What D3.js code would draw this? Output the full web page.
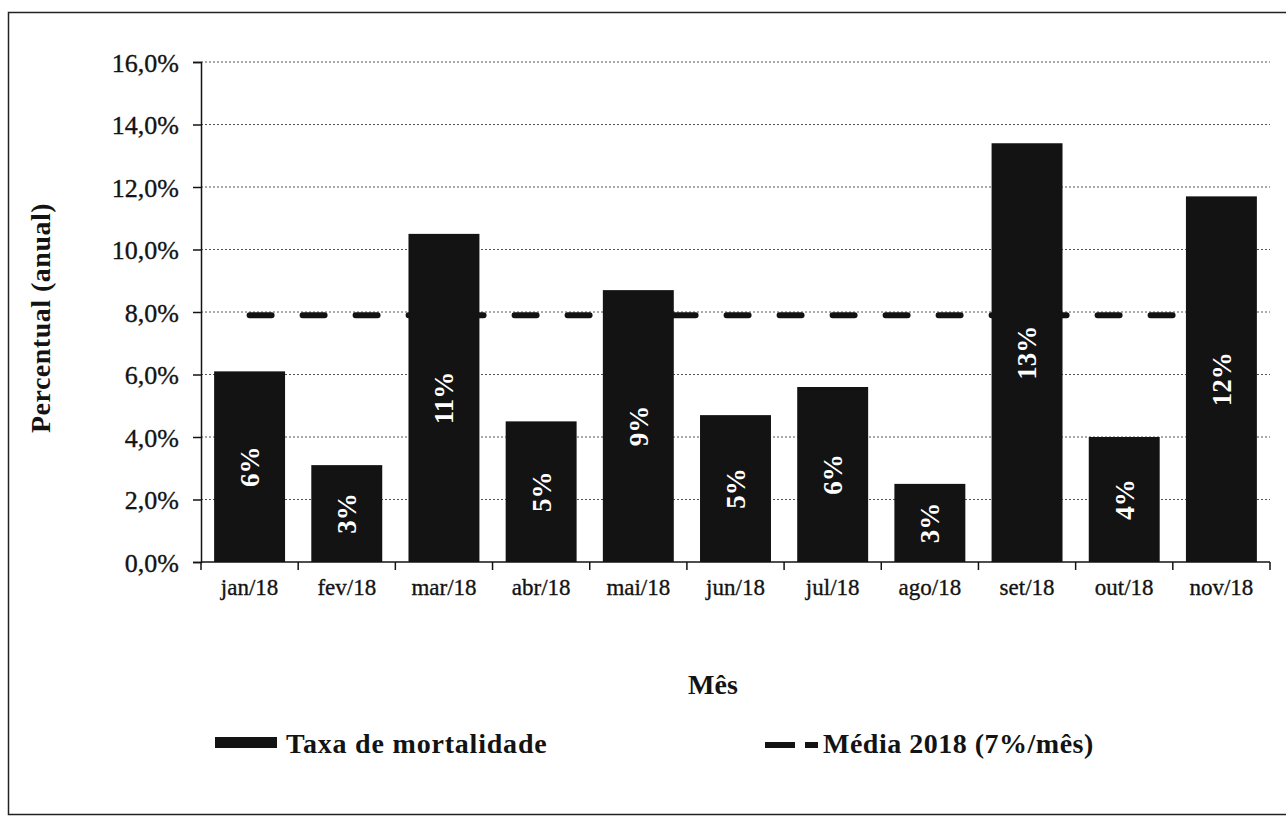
<!DOCTYPE html>
<html>
<head>
<meta charset="utf-8">
<script src="https://cdn.jsdelivr.net/npm/d3@7/dist/d3.min.js"></script>
<style>
  html, body { margin: 0; padding: 0; background: #fff; }
  svg { display: block; }
</style>
</head>
<body>
<svg id="chart" width="1286" height="821"></svg>
<script>
// ---- data ----
const months = ["jan/18","fev/18","mar/18","abr/18","mai/18","jun/18","jul/18","ago/18","set/18","out/18","nov/18"];
const mortalidade = [6.1, 3.1, 10.5, 4.5, 8.7, 4.7, 5.6, 2.5, 13.4, 4.0, 11.7];
const barLabels = ["6%","3%","11%","5%","9%","5%","6%","3%","13%","4%","12%"];
const mediaValue = 7.9;
const yTicks = [0, 2, 4, 6, 8, 10, 12, 14, 16];
const yTitle = "Percentual (anual)";
const xTitle = "Mês";
const legendLabels = ["Taxa de mortalidade", "Média 2018 (7%/mês)"];

// ---- layout ----
const svg = d3.select("#chart");
const W = 1286, H = 821;
const pLeft = 201, pRight = 1270, pTop = 62, pBottom = 562;
const ink = "#131313";
const FONT = "'Liberation Serif'";

function serif(sel, size, color, weight) {
  return sel.style("font-family", FONT)
    .style("font-size", size + "px").style("font-weight", weight || "normal")
    .style("fill", color);
}

svg.append("rect").attr("width", W).attr("height", H).attr("fill", "#fff");
// outer frame
svg.append("rect").attr("x", 8.5).attr("y", 12.5).attr("width", 1300).attr("height", 802)
  .attr("fill", "none").attr("stroke", "#222").attr("stroke-width", 1.5);

const x = d3.scaleBand().domain(months).range([pLeft, pRight]).paddingInner(0.27).paddingOuter(0.135);
const y = d3.scaleLinear().domain([0, 16]).range([pBottom, pTop]);

// gridlines
svg.append("g").selectAll("line").data(yTicks.filter(d => d > 0)).join("line")
  .attr("x1", pLeft).attr("x2", pRight)
  .attr("y1", d => y(d)).attr("y2", d => y(d))
  .attr("stroke", "#555").attr("stroke-width", 1).attr("stroke-dasharray", "2,2");

// y axis
const fmt = d => d3.format(".1f")(d).replace(".", ",") + "%";
const yAxis = svg.append("g").attr("transform", `translate(${pLeft},0)`)
  .call(d3.axisLeft(y).tickValues(yTicks).tickFormat(fmt).tickSize(8).tickPadding(14));
yAxis.select(".domain").attr("stroke", ink).attr("stroke-width", 1.5);
yAxis.selectAll(".tick line").attr("stroke", ink).attr("stroke-width", 1.5);
yAxis.selectAll("text").attr("dy", "0.35em").call(s => serif(s, 26, ink).style("stroke", ink).style("stroke-width", "0.35px"));

// bars
svg.append("g").selectAll("rect").data(mortalidade).join("rect")
  .attr("x", (d, i) => x(months[i]))
  .attr("y", d => y(d))
  .attr("width", x.bandwidth())
  .attr("height", d => y(0) - y(d))
  .attr("fill", ink);

// media line (line series through category centers)
const line = d3.line().x(d => x(d) + x.bandwidth() / 2).y(() => y(mediaValue));
svg.append("path").datum(months).attr("d", line)
  .attr("fill", "none").attr("stroke", ink).attr("stroke-width", 6)
  .attr("stroke-linecap", "round").attr("stroke-dasharray", "22,31");

// bar value labels
svg.append("g").selectAll("text").data(mortalidade).join("text")
  .attr("transform", (d, i) => `translate(${x(months[i]) + x.bandwidth() / 2},${(y(d) + y(0)) / 2}) rotate(-90)`)
  .attr("text-anchor", "middle").attr("dy", "0.35em")
  .text((d, i) => barLabels[i])
  .call(s => serif(s, 27, "#fff", "bold"));

// x axis
const xAxis = svg.append("g").attr("transform", `translate(0,${pBottom})`)
  .call(d3.axisBottom(x).tickSize(0).tickPadding(17));
xAxis.select(".domain").remove();
xAxis.selectAll("text").call(s => serif(s, 23, ink).style("stroke", ink).style("stroke-width", "0.35px"));
svg.append("line").attr("x1", pLeft).attr("x2", pRight).attr("y1", pBottom).attr("y2", pBottom)
  .attr("stroke", ink).attr("stroke-width", 1.5);
const step = x.step();
const bounds = months.map(m => x(m) - step * x.paddingInner() / 2).concat([pRight]);
svg.append("g").selectAll("line").data(bounds).join("line")
  .attr("x1", d => d).attr("x2", d => d).attr("y1", pBottom).attr("y2", pBottom + 8)
  .attr("stroke", ink).attr("stroke-width", 1.5);

// axis titles
svg.append("text").attr("transform", `translate(50,${(pTop + pBottom) / 2 + 6}) rotate(-90)`)
  .attr("text-anchor", "middle").style("letter-spacing", "0.5px").text(yTitle)
  .call(s => serif(s, 28, ink, "bold"));
svg.append("text").attr("x", 713).attr("y", 694).attr("text-anchor", "middle")
  .text(xTitle).call(s => serif(s, 28, ink, "bold"));

// legend
svg.append("rect").attr("x", 215).attr("y", 737).attr("width", 62).attr("height", 11).attr("fill", ink);
svg.append("text").attr("x", 286).attr("y", 753).style("letter-spacing", "0.8px")
  .text(legendLabels[0]).call(s => serif(s, 28, ink, "bold"));
svg.append("line").attr("x1", 765).attr("x2", 818).attr("y1", 745).attr("y2", 745)
  .attr("stroke", ink).attr("stroke-width", 6).attr("stroke-dasharray", "30,10");
svg.append("text").attr("x", 823).attr("y", 753).style("letter-spacing", "0.5px")
  .text(legendLabels[1]).call(s => serif(s, 28, ink, "bold"));
</script>
</body>
</html>
